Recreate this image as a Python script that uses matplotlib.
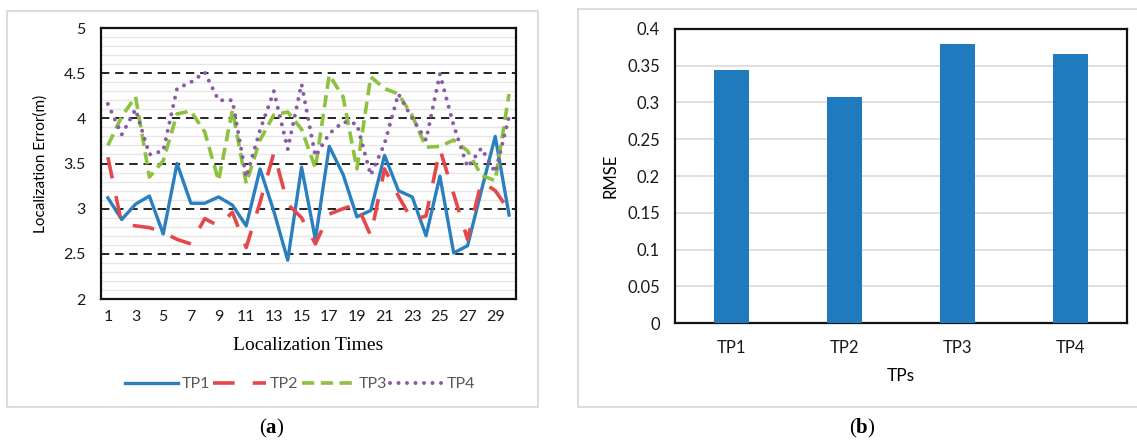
import numpy as np
import matplotlib
matplotlib.use("Agg")
import matplotlib.pyplot as plt
from matplotlib.patches import Rectangle

plt.rcParams['font.family'] = ['Lato', 'DejaVu Sans']
plt.rcParams['mathtext.fontset'] = 'custom'
plt.rcParams['mathtext.rm'] = 'Liberation Serif'
plt.rcParams['mathtext.bf'] = 'Liberation Serif:bold'

# localization error per run, four test points
times = np.arange(1, 31)
tp1 = [3.12, 2.88, 3.05, 3.14, 2.72, 3.50, 3.06, 3.06, 3.13, 3.04,
       2.81, 3.44, 2.97, 2.43, 3.46, 2.66, 3.69, 3.38, 2.91, 2.98,
       3.59, 3.20, 3.13, 2.70, 3.36, 2.51, 2.59, 3.20, 3.80, 2.93]
tp2 = [3.57, 2.83, 2.81, 2.79, 2.74, 2.66, 2.61, 2.89, 2.81, 2.96,
       2.57, 3.07, 3.62, 3.05, 2.90, 2.61, 2.94, 3.00, 3.05, 2.70,
       3.44, 3.14, 2.87, 2.92, 3.66, 3.16, 2.66, 3.30, 3.20, 2.98]
tp3 = [3.70, 4.02, 4.24, 3.35, 3.53, 4.05, 4.08, 3.85, 3.31, 4.09,
       3.28, 3.76, 4.04, 4.07, 3.88, 3.45, 4.48, 4.24, 3.44, 4.46,
       4.33, 4.27, 4.03, 3.68, 3.69, 3.76, 3.64, 3.37, 3.31, 4.27]
tp4 = [4.16, 3.82, 4.10, 3.60, 3.64, 4.33, 4.40, 4.51, 4.20, 4.20,
       3.35, 3.87, 4.30, 3.66, 4.38, 3.58, 3.83, 3.96, 3.94, 3.37,
       3.72, 4.27, 4.00, 3.76, 4.49, 3.92, 3.46, 3.67, 3.40, 4.02]

# RMSE per test point
tps = ['TP1', 'TP2', 'TP3', 'TP4']
rmse = [0.344, 0.308, 0.379, 0.366]

fig = plt.figure(figsize=(11.37, 4.42), dpi=100)

# light gray panel frames
fig.patches.append(Rectangle((0.0062, 0.0792), 0.467, 0.896, transform=fig.transFigure,
                             fill=False, edgecolor='#DCDCDC', lw=1.5))
fig.patches.append(Rectangle((0.5084, 0.0792), 0.52, 0.9005, transform=fig.transFigure,
                             fill=False, edgecolor='#DCDCDC', lw=1.5))

# ---- (a) line chart ----
ax = fig.add_axes([0.0888, 0.3235, 0.365, 0.6131])
ax.plot(times, tp1, color='#2A7FC1', lw=2.4, label='TP1', zorder=3)
ax.plot(times, tp2, color='#E5484B', lw=2.6, dashes=(6, 5), label='TP2', zorder=3)
ax.plot(times, tp3, color='#8CC23F', lw=2.6, dashes=(3.4, 1.8), label='TP3', zorder=3)
ax.plot(times, tp4, color='#8A5BA8', lw=2.9, dashes=(0.01, 2.1),
        dash_capstyle='round', label='TP4', zorder=3)

ax.set_xlim(0.5, 30.5)
ax.set_ylim(2, 5)
ax.set_xticks(np.arange(1, 30, 2))
ax.set_yticks(np.arange(2, 5.01, 0.5))
ax.set_yticklabels(['2', '2.5', '3', '3.5', '4', '4.5', '5'])
ax.set_yticks(np.arange(2, 5.01, 0.1), minor=True)
ax.grid(True, axis='y', which='minor', color='#E6E6E6', lw=1)
ax.grid(True, axis='y', which='major', color='black', lw=1.2, linestyle=(0, (5, 3.5)))
ax.set_axisbelow(True)
ax.tick_params(axis='both', which='both', length=0, labelsize=11.5, colors='#1a1a1a')
ax.tick_params(axis='x', pad=8)
ax.tick_params(axis='y', pad=11)
for s in ax.spines.values():
    s.set_linewidth(1.6)
    s.set_color('#111111')
ax.set_ylabel('Localization Error(m)', fontsize=11, labelpad=11)
ax.set_xlabel('Localization Times', fontsize=14, family='Liberation Serif', labelpad=9)
leg = ax.legend(loc='center', bbox_to_anchor=(0.48, -0.315), ncol=4, frameon=False,
                handlelength=3.3, handletextpad=0.25, columnspacing=0.2, fontsize=11.5)
for t in leg.get_texts():
    t.set_color('#595959')

fig.text(272 / 1137, 1 - 428 / 442, r'($\mathbf{a}$)', family='Liberation Serif',
         fontsize=15, ha='center', va='center')

# ---- (b) bar chart ----
bx = fig.add_axes([0.5937, 0.2692, 0.3975, 0.6652])
bx.bar(tps, rmse, width=0.31, color='#1F7BBE', zorder=3)
bx.set_xlim(-0.5, 3.5)
bx.set_ylim(0, 0.4)
bx.set_yticks(np.arange(0, 0.401, 0.05))
bx.set_yticklabels(['0', '0.05', '0.1', '0.15', '0.2', '0.25', '0.3', '0.35', '0.4'])
bx.grid(True, axis='y', color='#D9D9D9', lw=1.2)
bx.set_axisbelow(True)
bx.tick_params(axis='both', length=0, labelsize=12, colors='#1a1a1a')
bx.tick_params(axis='x', pad=12)
bx.tick_params(axis='y', pad=11)
for s in bx.spines.values():
    s.set_linewidth(1.6)
    s.set_color('#111111')
bx.set_ylabel('RMSE', fontsize=12, labelpad=6)
bx.set_xlabel('TPs', fontsize=12.5, labelpad=9)

fig.text(862 / 1137, 1 - 428 / 442, r'($\mathbf{b}$)', family='Liberation Serif',
         fontsize=15, ha='center', va='center')

fig.savefig('out.png', dpi=100)
